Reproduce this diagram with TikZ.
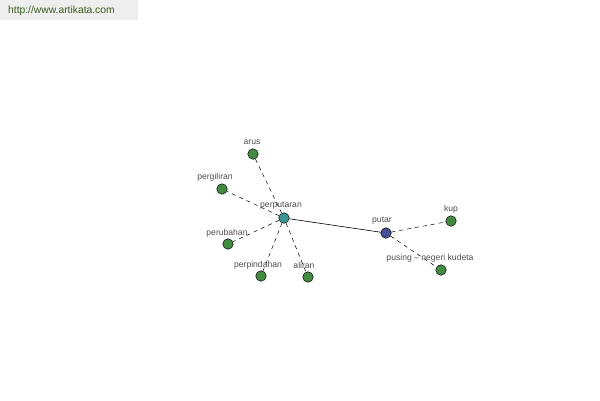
\documentclass[tikz,border=0pt]{standalone}
\usepackage{fontspec}
\setmainfont{Liberation Sans}
\begin{document}
\begin{tikzpicture}[x=1pt,y=-1pt,
  dot/.style={circle,draw=black,line width=0.5pt,minimum size=10.5pt,inner sep=0pt},
  leaf/.style={dot,fill=leafgreen},
  lbl/.style={font=\fontsize{8.6}{9}\selectfont,text=labelgray,inner sep=0pt},
  dashedge/.style={draw=black,line width=0.5pt,dash pattern=on 4pt off 4pt},
  solidedge/.style={draw=black,line width=0.6pt}]
\definecolor{leafgreen}{RGB}{66,140,66}
\definecolor{hubteal}{RGB}{60,150,150}
\definecolor{hubblue}{RGB}{70,80,150}
\definecolor{labelgray}{RGB}{80,80,80}
\definecolor{headergray}{RGB}{238,238,238}
\definecolor{headertext}{RGB}{60,90,30}
\useasboundingbox (0,0) rectangle (600,400);
\fill[white] (0,0) rectangle (600,400);
\node[fill=headergray,minimum width=138pt,minimum height=20pt,inner sep=0pt,anchor=north west] (hdr) at (0,0) {};
\node[font=\fontsize{10.3}{11}\selectfont,text=headertext,anchor=west,inner sep=0pt] (url) at (8,11) {http://www.artikata.com};
\coordinate (cperputaran) at (284,218);
\coordinate (cputar) at (386,233);
\node[leaf] (arus) at (253,154) {};
\node[leaf] (pergiliran) at (222,189) {};
\node[leaf] (perubahan) at (228,244) {};
\node[leaf] (perpindahan) at (261,276) {};
\node[leaf] (aliran) at (308,277) {};
\node[leaf] (kup) at (451,221) {};
\node[leaf] (pusing) at (441,270) {};
\node[dot,fill=hubteal] (perputaran) at (cperputaran) {};
\node[dot,fill=hubblue] (putar) at (cputar) {};
\draw[solidedge] (perputaran) -- (putar);
\draw[dashedge] (perputaran) -- (arus);
\draw[dashedge] (perputaran) -- (pergiliran);
\draw[dashedge] (perputaran) -- (perubahan);
\draw[dashedge] (perputaran) -- (perpindahan);
\draw[dashedge] (perputaran) -- (aliran);
\draw[dashedge] (putar) -- (kup);
\draw[dashedge] (putar) -- (pusing);
\node[lbl] (larus) at (252,142) {arus};
\node[lbl] (lpergiliran) at (215,177) {pergiliran};
\node[lbl] (lperubahan) at (227,233) {perubahan};
\node[lbl] (lperpindahan) at (258,265) {perpindahan};
\node[lbl] (laliran) at (304,265) {aliran};
\node[lbl] (lkup) at (451,209) {kup};
\node[lbl] (lpusing) at (430,258) {pusing -- negeri kudeta};
\node[lbl] (lperputaran) at (281,206) {perputaran};
\node[lbl] (lputar) at (382,221) {putar};
\end{tikzpicture}
\end{document}
